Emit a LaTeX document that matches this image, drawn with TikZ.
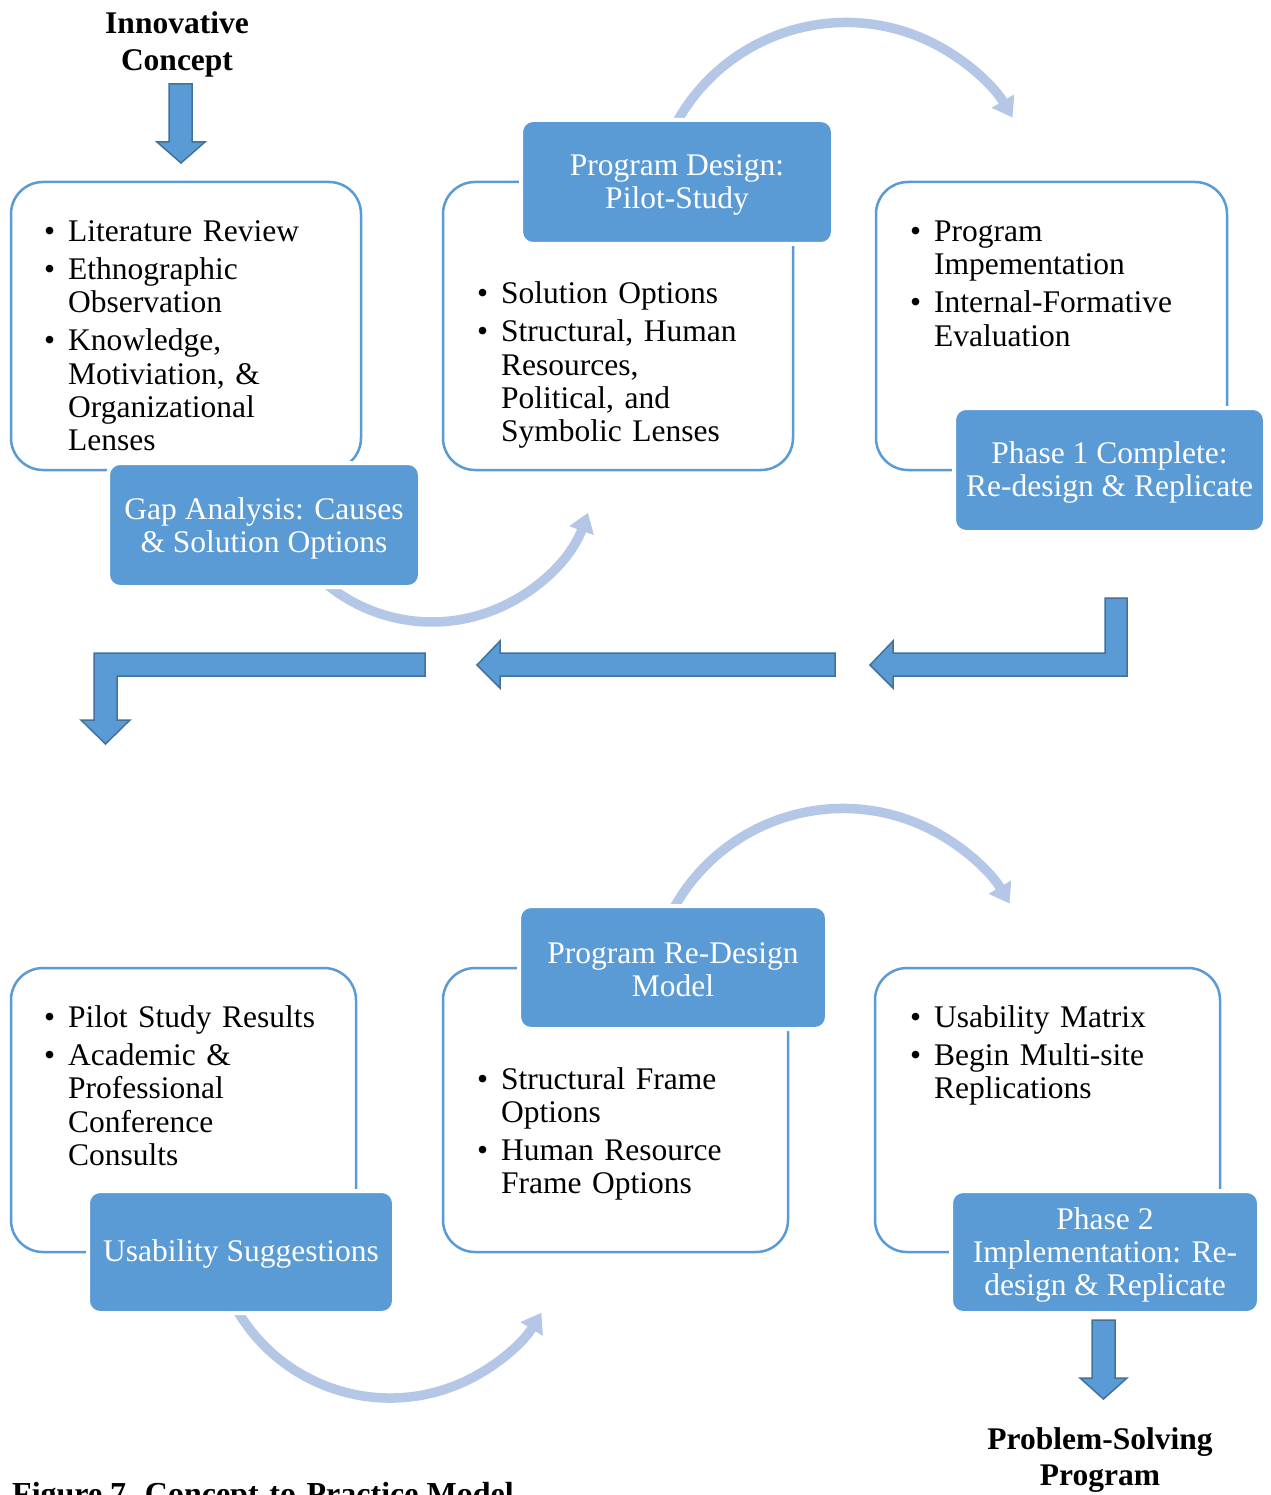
\documentclass[tikz,border=0pt]{standalone}
\usepackage{fontspec}
\setmainfont{Liberation Serif}
\usetikzlibrary{arrows.meta}
\definecolor{mblue}{HTML}{5B9BD5}
\definecolor{dblue}{HTML}{41719C}
\definecolor{lblue}{RGB}{180,199,231}
\newcommand{\bul}{\makebox[24pt][l]{\textbullet}}
\newcommand{\ind}{\hspace*{24pt}}
\begin{document}
\begin{tikzpicture}[x=1pt,y=1pt,
  obox/.style={draw=mblue, line width=2.5pt, rounded corners=32pt, inner sep=0pt},
  bbox/.style={fill=mblue, draw=white, line width=4pt, rounded corners=12pt, inner sep=0pt},
  btext/.style={text=white, align=center, inner sep=0pt, font=\fontsize{31.5}{33}\selectfont},
  blist/.style={align=left, inner sep=0pt, anchor=base west, text width=330pt,
    font=\fontsize{31.5}{33.3}\selectfont},
  ttl/.style={align=center, inner sep=0pt, anchor=base, text width=330pt,
    font=\fontsize{31.5}{36.5}\selectfont\bfseries},
  carrow/.style={draw=lblue, line width=9.5pt, -{Triangle[width=25pt,length=19pt]}},
  barrow/.style={fill=mblue, draw=dblue, line width=1.5pt, line join=miter}
]
\fill[white] (0,0) rectangle (1270,-1495);
\useasboundingbox (0,0) rectangle (1270,-1495);

% outline boxes
\node[obox, minimum width=350pt, minimum height=288pt] (o1) at (186,-326) {};
\node[obox, minimum width=350pt, minimum height=288pt] (o2) at (618,-326) {};
\node[obox, minimum width=351pt, minimum height=288pt] (o3) at (1051.5,-326) {};
\node[obox, minimum width=345pt, minimum height=284pt] (o4) at (183.5,-1110) {};
\node[obox, minimum width=345pt, minimum height=284pt] (o5) at (615.5,-1110) {};
\node[obox, minimum width=345pt, minimum height=284pt] (o6) at (1047.5,-1110) {};

% curved arrows
\coordinate (cA) at (846,-216);
\coordinate (cB) at (432,-456);
\coordinate (cC) at (843,-1002);
\coordinate (cD) at (390,-1221);
\draw[carrow] ([shift={(153:193.5)}]cA) arc[start angle=153, end angle=30.6, radius=193.5];
\draw[carrow] ([shift={(228:166)}]cB) arc[start angle=228, end angle=340, radius=166];
\draw[carrow] ([shift={(153:193.5)}]cC) arc[start angle=153, end angle=30.6, radius=193.5];
\draw[carrow] ([shift={(205:177)}]cD) arc[start angle=205, end angle=328.8, radius=177];

% blue boxes
\node[bbox, minimum width=312pt, minimum height=124pt] (b1) at (264,-525) {};
\node[bbox, minimum width=312pt, minimum height=124pt] (b2) at (677,-182) {};
\node[bbox, minimum width=311pt, minimum height=124pt] (b3) at (1109.5,-470) {};
\node[bbox, minimum width=306pt, minimum height=122pt] (b4) at (241,-1252) {};
\node[bbox, minimum width=308pt, minimum height=123pt] (b5) at (673,-967.5) {};
\node[bbox, minimum width=308pt, minimum height=122pt] (b6) at (1105,-1252) {};
\node[btext] (b1t) at ([yshift=-3pt]b1.center) {Gap Analysis: Causes\\\& Solution Options};
\node[btext] (b2t) at ([yshift=-3pt]b2.center) {Program Design:\\Pilot-Study};
\node[btext] (b3t) at ([yshift=-2.5pt]b3.center) {Phase 1 Complete:\\Re-design \& Replicate};
\node[btext] (b4t) at ([yshift=-2pt]b4.center) {Usability Suggestions};
\node[btext] (b5t) at ([yshift=-2pt]b5.center) {Program Re-Design\\Model};
\node[btext] (b6t) at ([yshift=-2.5pt]b6.center) {Phase 2\\Implementation: Re-\\design \& Replicate};

% bullet lists
\node[blist] (l1) at (44,-241.5) {\bul Literature Review\\[4.7pt]
  \bul Ethnographic\\\ind Observation\\[4.7pt]
  \bul Knowledge,\\\ind Motiviation, \&\\\ind Organizational\\\ind Lenses};
\node[blist] (l2) at (477,-304) {\bul Solution Options\\[4.7pt]
  \bul Structural, Human\\\ind Resources,\\\ind Political, and\\\ind Symbolic Lenses};
\node[blist] (l3) at (910,-241.5) {\bul Program\\\ind Impementation\\[4.7pt]
  \bul Internal-Formative\\\ind Evaluation};
\node[blist] (l4) at (44,-1027.5) {\bul Pilot Study Results\\[4.7pt]
  \bul Academic \&\\\ind Professional\\\ind Conference\\\ind Consults};
\node[blist] (l5) at (477,-1089) {\bul Structural Frame\\\ind Options\\[4.7pt]
  \bul Human Resource\\\ind Frame Options};
\node[blist] (l6) at (910,-1027.5) {\bul Usability Matrix\\[4.7pt]
  \bul Begin Multi-site\\\ind Replications};

% block arrows
\draw[barrow] (169,-84) -- (192,-84) -- (192,-142) -- (205,-142) -- (181,-163)
  -- (157,-142) -- (169,-142) -- cycle;
\draw[barrow] (1105,-598) -- (1127,-598) -- (1127,-676) -- (893,-676) -- (893,-688)
  -- (870,-665) -- (893,-641) -- (893,-653) -- (1105,-653) -- cycle;
\draw[barrow] (835,-653) -- (835,-676) -- (500,-676) -- (500,-688) -- (477,-665)
  -- (500,-641) -- (500,-653) -- cycle;
\draw[barrow] (425,-653) -- (425,-676) -- (117,-676) -- (117,-720) -- (130,-720)
  -- (105.5,-744) -- (81,-720) -- (94,-720) -- (94,-653) -- cycle;
\draw[barrow] (1092,-1320) -- (1115,-1320) -- (1115,-1378) -- (1127,-1378)
  -- (1103.5,-1399) -- (1080,-1378) -- (1092,-1378) -- cycle;

% titles
\node[ttl] (t1) at (177,-34) {Innovative\\Concept};
\node[ttl] (t2) at (1100,-1449) {Problem-Solving\\Program};
\node[anchor=base west, inner sep=0pt, font=\fontsize{32}{35}\selectfont\bfseries] (cap) at (12,-1504) {Figure 7. Concept-to-Practice Model};
\end{tikzpicture}
\end{document}
